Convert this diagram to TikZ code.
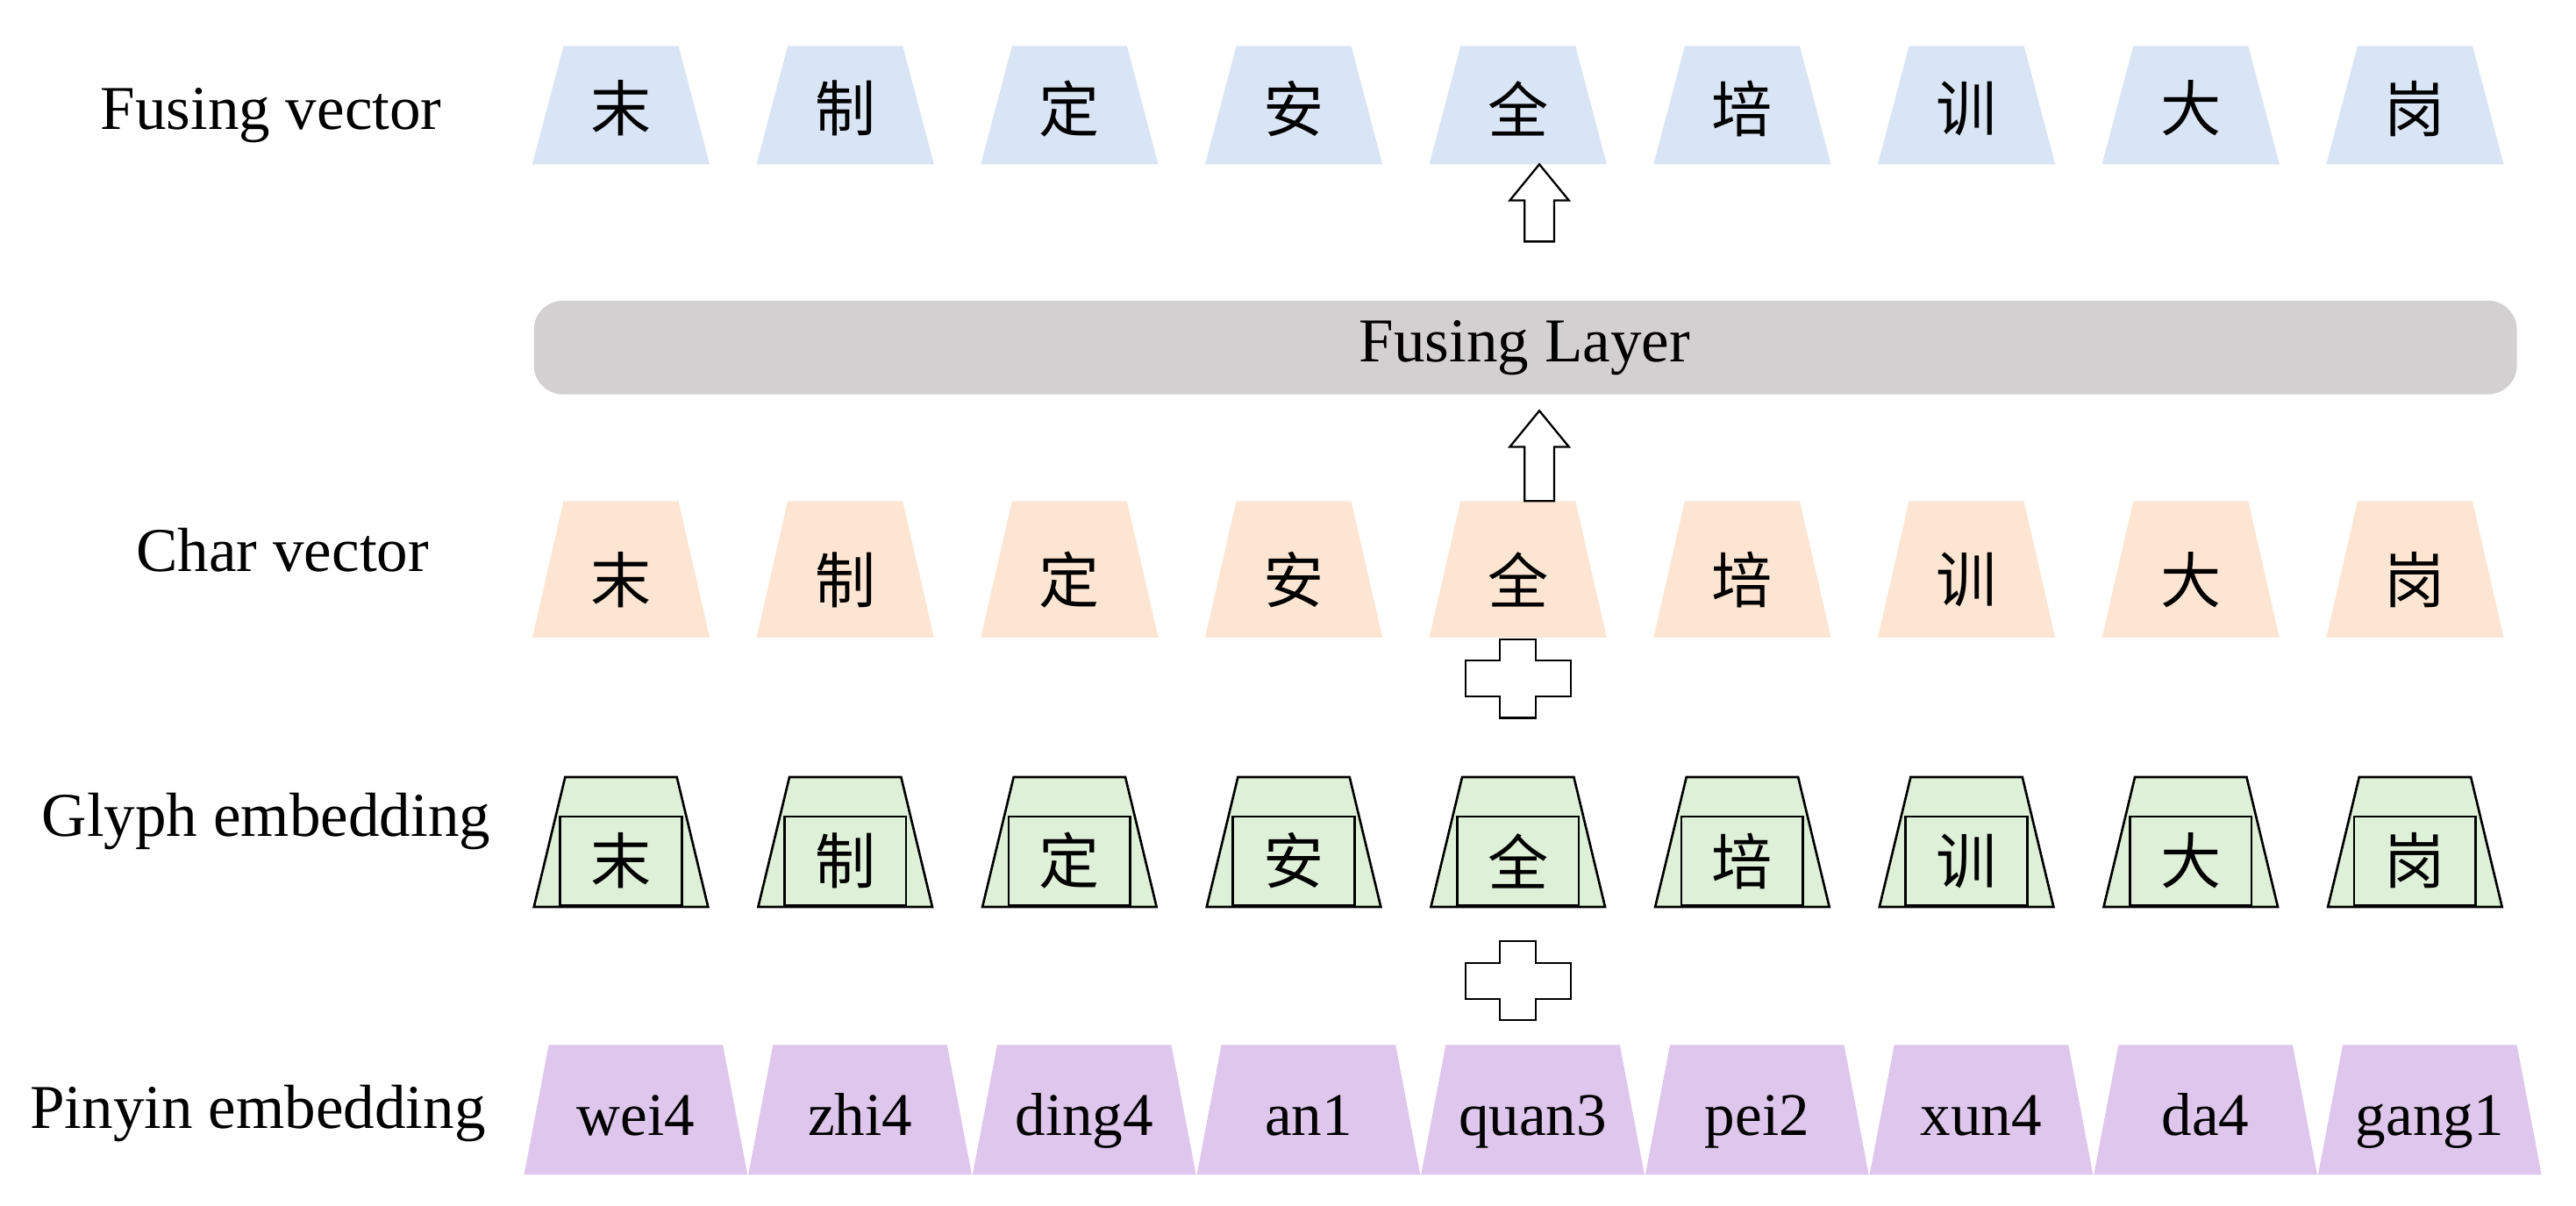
\documentclass[tikz,border=0pt]{standalone}
\usepackage{fontspec}
\setmainfont{Liberation Serif}
\newfontfamily\cjk{Noto Sans CJK SC}
\begin{document}
\begin{tikzpicture}[x=0.1mm,y=-0.1mm,
  lab/.style={font=\fontsize{10.8}{12}\selectfont},
  ch/.style={font=\cjk\fontsize{10.5}{12}\selectfont},
  py/.style={font=\fontsize{10.5}{12}\selectfont,anchor=base},
  arr/.style={draw=black,fill=white,line width=0.35pt}]
\useasboundingbox (0,0) rectangle (1568,734);
\definecolor{cblue}{HTML}{D9E4F4}
\definecolor{cpeach}{HTML}{FDE5D3}
\definecolor{cgreen}{HTML}{DFF0D8}
\definecolor{cpurp}{HTML}{DFC6EC}
\definecolor{cgray}{HTML}{D3D0D1}
\node[lab] (l1) at (165,70) {Fusing vector};
\node[lab] (l2) at (172,335) {Char vector};
\node[lab] (l3) at (162,500) {Glyph embedding};
\node[lab] (l4) at (157,678) {Pinyin embedding};
\def\chars{末,制,定,安,全,培,训,大,岗}
\foreach \c [count=\i from 0] in \chars {
  \pgfmathsetmacro\cx{378+136.5*\i}
  \fill[cblue] (\cx-35,28) -- (\cx+35,28) -- (\cx+54,100) -- (\cx-54,100) -- cycle;
  \node[ch] (f\i) at (\cx,66) {\c};
  \fill[cpeach] (\cx-35,305) -- (\cx+35,305) -- (\cx+54,388) -- (\cx-54,388) -- cycle;
  \node[ch] (c\i) at (\cx,353) {\c};
  \draw[fill=cgreen,line width=0.4pt] (\cx-34,473) -- (\cx+34,473) -- (\cx+53,552) -- (\cx-53,552) -- cycle;
  \draw[fill=cgreen,line width=0.4pt] (\cx-37,497) rectangle (\cx+37,551);
  \node[ch] (g\i) at (\cx,524) {\c};
}
\def\pys{wei4,zhi4,ding4,an1,quan3,pei2,xun4,da4,gang1}
\foreach \p [count=\i from 0] in \pys {
  \pgfmathsetmacro\cx{387+136.5*\i}
  \fill[cpurp] (\cx-53,636) -- (\cx+53,636) -- (\cx+68,715) -- (\cx-68,715) -- cycle;
  \node[py] (p\i) at (\cx,691) {\p};
}
\fill[cgray,rounded corners=5] (325,183) rectangle (1532,240);
\node[lab] (fl) at (928,212) {Fusing Layer};
\foreach \ya/\yb in {100/147,250/305} {
  \draw[arr] (937,\ya) -- (955,\ya+22) -- (946,\ya+22) -- (946,\yb) -- (928,\yb) -- (928,\ya+22) -- (919,\ya+22) -- cycle;
}
\foreach \py in {413,597} {
  \draw[arr] (913,\py-24) -- (935,\py-24) -- (935,\py-11) -- (956,\py-11) -- (956,\py+11) -- (935,\py+11) -- (935,\py+24) -- (913,\py+24) -- (913,\py+11) -- (892,\py+11) -- (892,\py-11) -- (913,\py-11) -- cycle;
}
\end{tikzpicture}
\end{document}
